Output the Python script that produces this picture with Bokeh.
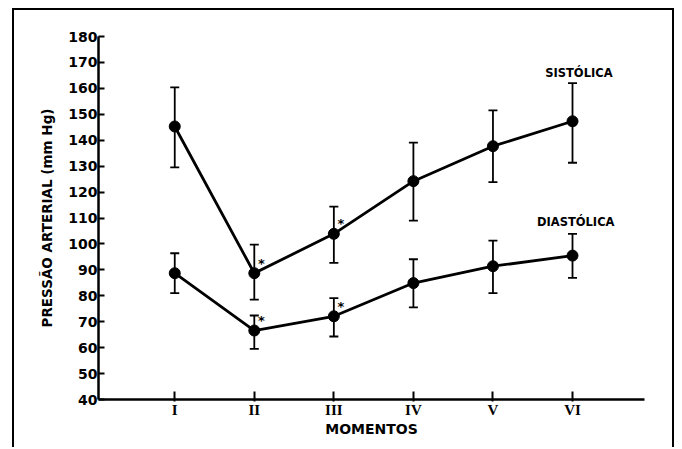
from bokeh.plotting import figure
from bokeh.models import ColumnDataSource, FixedTicker, Whisker, TeeHead, Label, Range1d
from bokeh.core.properties import value
from bokeh.embed import file_html
from bokeh.resources import INLINE

# ---- data ----
momentos = ["I", "II", "III", "IV", "V", "VI"]
sistolica = [145.3, 88.7, 103.9, 124.2, 137.7, 147.3]
sistolica_sup = [160.4, 99.7, 114.4, 139.1, 151.5, 162.0]
sistolica_inf = [129.5, 78.5, 92.7, 109.0, 123.8, 131.3]
diastolica = [88.7, 66.6, 72.1, 84.9, 91.4, 95.5]
diastolica_sup = [96.4, 72.4, 79.1, 94.1, 101.3, 103.9]
diastolica_inf = [81.0, 59.5, 64.3, 75.5, 81.0, 86.9]
asterisco_sis = ["", "*", "*", "", "", ""]
asterisco_dia = ["", "*", "*", "", "", ""]
y_ticks = list(range(40, 190, 10))

pos = list(range(1, len(momentos) + 1))

src_s = ColumnDataSource(dict(x=pos, y=sistolica, sup=sistolica_sup, inf=sistolica_inf, ast=asterisco_sis))
src_d = ColumnDataSource(dict(x=pos, y=diastolica, sup=diastolica_sup, inf=diastolica_inf, ast=asterisco_dia))

p = figure(width=662, height=439, x_range=Range1d(0.0415, 6.905), y_range=Range1d(40, 180),
           output_backend="svg", toolbar_location=None,
           min_border_left=84, min_border_right=32, min_border_top=26, min_border_bottom=50)
p.styles = {"margin-left": "12px", "margin-top": "8px",
            "border-left": "2px solid black", "border-top": "2px solid black",
            "border-right": "2px solid black"}
p.outline_line_color = None
p.xgrid.visible = False
p.ygrid.visible = False
p.background_fill_color = "white"
p.border_fill_color = "white"

# y axis
ya = p.yaxis[0]
ya.ticker = FixedTicker(ticks=y_ticks)
ya.major_tick_in = 6
ya.major_tick_out = 0
ya.minor_tick_line_color = None
ya.axis_line_width = 2.5
ya.major_tick_line_width = 2
ya.major_label_text_font = "DejaVu Sans"
ya.major_label_text_font_style = "bold"
ya.major_label_text_font_size = "14px"
ya.major_label_text_color = "black"
ya.major_label_standoff = 1
ya.axis_label = "PRESSÃO ARTERIAL (mm Hg)"
ya.axis_label_text_font = "DejaVu Sans"
ya.axis_label_text_font_style = "bold"
ya.axis_label_text_font_size = "13.5px"
ya.axis_label_text_color = "black"
ya.axis_label_standoff = 10

# x axis
xa = p.xaxis[0]
xa.ticker = FixedTicker(ticks=pos)
xa.major_label_overrides = {k: m for k, m in zip(pos, momentos)}
xa.major_tick_in = 8
xa.major_tick_out = 2
xa.minor_tick_line_color = None
xa.axis_line_width = 2.5
xa.major_tick_line_width = 2
xa.major_label_text_font = "Liberation Serif"
xa.major_label_text_font_style = "bold"
xa.major_label_text_font_size = "15px"
xa.major_label_text_color = "black"
xa.major_label_standoff = 0
xa.axis_label = "MOMENTOS"
xa.axis_label_text_font = "DejaVu Sans"
xa.axis_label_text_font_style = "bold"
xa.axis_label_text_font_size = "14px"
xa.axis_label_text_color = "black"
xa.axis_label_standoff = 0

for src in (src_s, src_d):
    w = Whisker(source=src, base="x", upper="sup", lower="inf", line_width=1.8, line_color="black",
                upper_head=TeeHead(size=9, line_width=1.8, line_color="black"),
                lower_head=TeeHead(size=9, line_width=1.8, line_color="black"))
    p.add_layout(w)
    p.line("x", "y", source=src, line_width=2.8, line_color="black")
    p.scatter("x", "y", source=src, size=11, fill_color="black", line_color="black")
    p.text("x", "y", text="ast", source=src, x_offset=7, y_offset=-10,
           text_font=value("DejaVu Sans"), text_font_style="bold", text_font_size="13px",
           text_align="center", text_baseline="middle", text_color="black")

for txt, lx, ly in (("SISTÓLICA", 6.08, 166.1), ("DIASTÓLICA", 6.04, 108.3)):
    p.add_layout(Label(x=lx, y=ly, text=txt, text_align="center", text_baseline="middle",
                       text_font="DejaVu Sans", text_font_style="bold", text_font_size="11.5px",
                       text_color="black"))

open("out.html", "w").write(file_html(p, INLINE))
